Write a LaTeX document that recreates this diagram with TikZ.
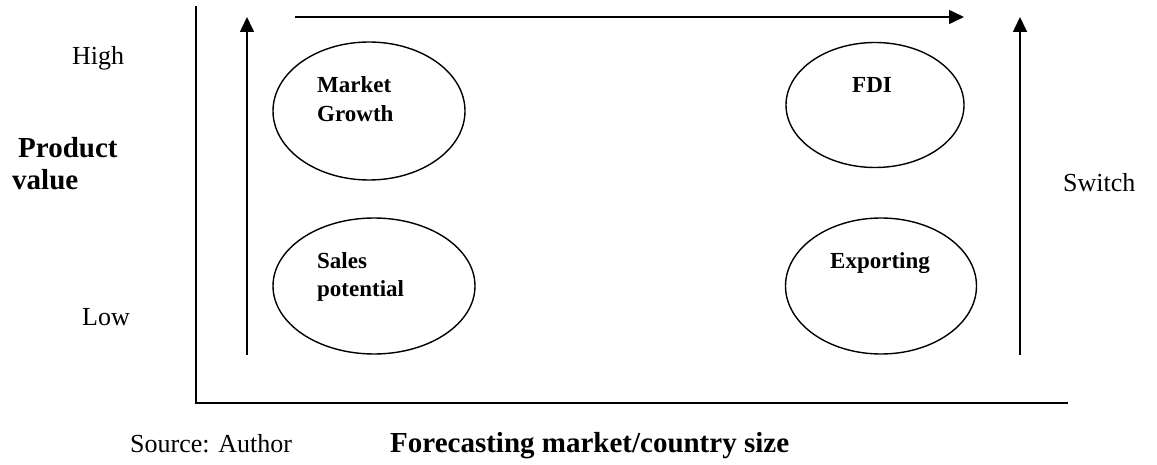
\documentclass[tikz,border=0pt]{standalone}
\usepackage{fontspec}
\setmainfont{Liberation Serif}
\usetikzlibrary{shapes.geometric,arrows.meta}
\begin{document}
\begin{tikzpicture}[x=1pt,y=-1pt,
  ln/.style={line width=1.6pt,draw=black},
  arr/.style={ln,-{Triangle[length=15pt,width=14pt]}},
  oval/.style={ellipse,draw=black,line width=1.4pt,inner sep=0pt},
  reg/.style={font=\fontsize{26}{30}\selectfont,inner sep=0pt,anchor=base west},
  bld/.style={font=\fontsize{29}{33}\bfseries\selectfont,inner sep=0pt,anchor=base west},
  inl/.style={font=\fontsize{23}{27}\bfseries\selectfont,inner sep=0pt,anchor=base west}]
\useasboundingbox (0,0) rectangle (1157,465);
% axes
\coordinate (axtop) at (196,6);
\coordinate (axcorner) at (196,403);
\coordinate (axright) at (1068,403);
\draw[ln] (axtop) -- (axcorner) -- (axright);
% arrows
\coordinate (la0) at (247,355);
\coordinate (la1) at (247,17);
\coordinate (ra0) at (1020,355);
\coordinate (ra1) at (1020,17);
\coordinate (ta0) at (295,17);
\coordinate (ta1) at (964,17);
\draw[arr] (la0) -- (la1);
\draw[arr] (ra0) -- (ra1);
\draw[arr] (ta0) -- (ta1);
% ellipses
\node[oval,minimum width=192pt,minimum height=138pt] (mg) at (369,111) {};
\node[oval,minimum width=178pt,minimum height=125pt] (fdi) at (875,105) {};
\node[oval,minimum width=202pt,minimum height=136pt] (sp) at (374,286) {};
\node[oval,minimum width=191pt,minimum height=136pt] (ex) at (881,286) {};
% ellipse texts
\node[inl] (mgt1) at (317,93) {Market};
\node[inl] (mgt2) at (317,122) {Growth};
\node[inl] (fdit) at (852,93) {FDI};
\node[inl] (spt1) at (317,269) {Sales};
\node[inl] (spt2) at (317,297) {potential};
\node[inl] (ext) at (830,269) {Exporting};
% side labels
\node[reg] (high) at (72,65) {High};
\node[reg] (low) at (82,325) {Low};
\node[bld] (prod) at (18,158) {Product};
\node[bld] (val) at (12,190) {value};
\node[reg] (sw) at (1063,192) {Switch};
\node[reg] (src) at (130,452) {Source: Author};
\node[bld] (fc) at (390,452) {Forecasting market/country size};
\end{tikzpicture}
\end{document}
